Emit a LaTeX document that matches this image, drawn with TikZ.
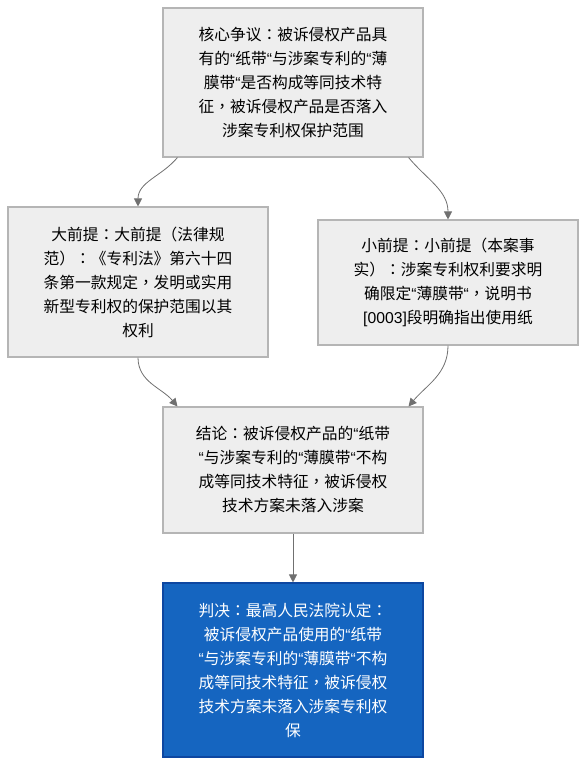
\documentclass[tikz,border=0pt]{standalone}
\usepackage{fontspec}
\setmainfont{Noto Sans CJK SC}
\newfontfamily\latinf{Liberation Sans}
\newfontfamily\tcf{Noto Sans CJK TC}
\newcommand{\qq}{{\latinf “}}
\newcommand{\cc}{{\tcf ：}}
\newcommand{\cm}{{\tcf ，}}
\usetikzlibrary{arrows.meta,calc}
\definecolor{boxfill}{HTML}{EEEEEE}
\definecolor{boxline}{HTML}{B5B5B5}
\definecolor{bluefill}{HTML}{1565C0}
\definecolor{blueline}{HTML}{0D47A1}
\definecolor{arrowcol}{HTML}{707070}
\begin{document}
\begin{tikzpicture}[x=0.75pt,y=0.75pt,
  graybox/.style={draw=boxline,fill=boxfill,line width=0.8pt,minimum width=195pt,
    align=center,font=\fontsize{11.8pt}{18pt}\selectfont,inner sep=0pt},
  bluebox/.style={graybox,draw=blueline,fill=bluefill,text=white},
  conn/.style={draw=arrowcol,line width=0.6pt,-{Triangle[width=6pt,length=6pt]}}]
\useasboundingbox (0,0) rectangle (586,766);
\node[graybox,minimum height=111.75pt] (top) at (293,683.5)
  {核心争议\cc 被诉侵权产品具\\有的\qq 纸带\qq 与涉案专利的\qq 薄\\膜带\qq 是否构成等同技术特\\征\cm 被诉侵权产品是否落入\\涉案专利权保护范围};
\node[graybox,minimum height=112.5pt] (left) at (138,484)
  {大前提\cc 大前提（法律规\\范）\cc 《专利法》第六十四\\条第一款规定\cm 发明或实用\\新型专利权的保护范围以其\\权利};
\node[graybox,minimum height=93.75pt] (right) at (448,483.5)
  {小前提\cc 小前提（本案事\\实）\cc 涉案专利权利要求明\\确限定\qq 薄膜带\qq \cm 说明书\\{\latinf [0003]}段明确指出使用纸};
\node[graybox,minimum height=94.5pt] (concl) at (293,296)
  {结论\cc 被诉侵权产品的\qq 纸带\\\qq 与涉案专利的\qq 薄膜带\qq 不构\\成等同技术特征\cm 被诉侵权\\技术方案未落入涉案};
\node[bluebox,minimum height=130.5pt] (verdict) at (293,96)
  {判决\cc 最高人民法院认定\cc \\被诉侵权产品使用的\qq 纸带\\\qq 与涉案专利的\qq 薄膜带\qq 不构\\成等同技术特征\cm 被诉侵权\\技术方案未落入涉案专利权\\保};
\draw[conn] ($(top.south west)+(15,0)$) to[out=-130,in=90] (left.north);
\draw[conn] ($(top.south east)+(-15,0)$) to[out=-50,in=90] (right.north);
\draw[conn] (left.south) to[out=-90,in=130] ($(concl.north west)+(15,0)$);
\draw[conn] (right.south) to[out=-90,in=50] ($(concl.north east)+(-15,0)$);
\draw[conn] (concl.south) -- (verdict.north);
\end{tikzpicture}
\end{document}
